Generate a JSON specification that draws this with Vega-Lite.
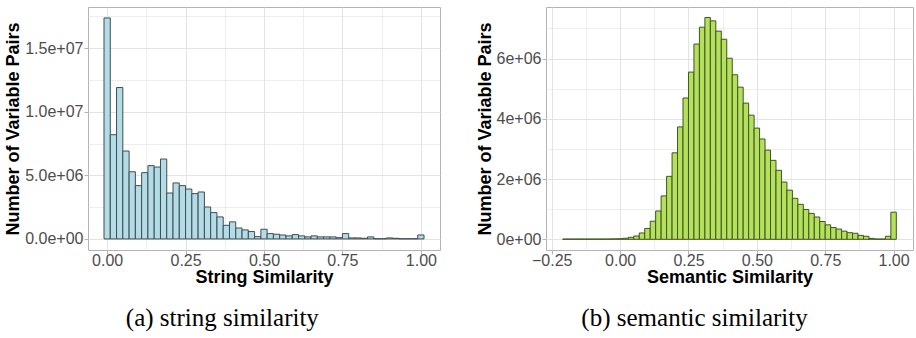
{
  "$schema": "https://vega.github.io/schema/vega-lite/v6.json",
  "padding": {"left": 4, "top": 6, "right": 0, "bottom": 0},
  "background": "white",
  "config": {
    "font": "Liberation Sans",
    "view": {"stroke": "#b3b3b3", "strokeWidth": 1},
    "axis": {
      "domain": false,
      "labelFont": "Liberation Sans",
      "labelFontSize": 16,
      "labelColor": "#4d4d4d",
      "titleFont": "Liberation Sans",
      "titleFontSize": 18,
      "titleFontWeight": "bold",
      "titleColor": "#000000",
      "tickSize": 4,
      "tickWidth": 1,
      "gridColor": "#e3e3e3",
      "labelOverlap": false
    }
  },
  "datasets": {
    "str": [
      {"lo": -0.01, "hi": 0.01, "n": 17370000},
      {"lo": 0.01, "hi": 0.03, "n": 8190000},
      {"lo": 0.03, "hi": 0.05, "n": 11900000},
      {"lo": 0.05, "hi": 0.07, "n": 6910000},
      {"lo": 0.07, "hi": 0.09, "n": 5280000},
      {"lo": 0.09, "hi": 0.11, "n": 4190000},
      {"lo": 0.11, "hi": 0.13, "n": 5210000},
      {"lo": 0.13, "hi": 0.15, "n": 5760000},
      {"lo": 0.15, "hi": 0.17, "n": 5650000},
      {"lo": 0.17, "hi": 0.19, "n": 6280000},
      {"lo": 0.19, "hi": 0.21, "n": 3610000},
      {"lo": 0.21, "hi": 0.23, "n": 4400000},
      {"lo": 0.23, "hi": 0.25, "n": 4190000},
      {"lo": 0.25, "hi": 0.27, "n": 3920000},
      {"lo": 0.27, "hi": 0.29, "n": 3560000},
      {"lo": 0.29, "hi": 0.31, "n": 3690000},
      {"lo": 0.31, "hi": 0.33, "n": 2510000},
      {"lo": 0.33, "hi": 0.35, "n": 2070000},
      {"lo": 0.35, "hi": 0.37, "n": 1730000},
      {"lo": 0.37, "hi": 0.39, "n": 1070000},
      {"lo": 0.39, "hi": 0.41, "n": 1340000},
      {"lo": 0.41, "hi": 0.43, "n": 860000},
      {"lo": 0.43, "hi": 0.45, "n": 710000},
      {"lo": 0.45, "hi": 0.47, "n": 580000},
      {"lo": 0.47, "hi": 0.49, "n": 180000},
      {"lo": 0.49, "hi": 0.51, "n": 760000},
      {"lo": 0.51, "hi": 0.53, "n": 420000},
      {"lo": 0.53, "hi": 0.55, "n": 370000},
      {"lo": 0.55, "hi": 0.57, "n": 310000},
      {"lo": 0.57, "hi": 0.59, "n": 240000},
      {"lo": 0.59, "hi": 0.61, "n": 340000},
      {"lo": 0.61, "hi": 0.63, "n": 240000},
      {"lo": 0.63, "hi": 0.65, "n": 160000},
      {"lo": 0.65, "hi": 0.67, "n": 240000},
      {"lo": 0.67, "hi": 0.69, "n": 160000},
      {"lo": 0.69, "hi": 0.71, "n": 160000},
      {"lo": 0.71, "hi": 0.73, "n": 160000},
      {"lo": 0.73, "hi": 0.75, "n": 100000},
      {"lo": 0.75, "hi": 0.77, "n": 420000},
      {"lo": 0.77, "hi": 0.79, "n": 80000},
      {"lo": 0.79, "hi": 0.81, "n": 80000},
      {"lo": 0.81, "hi": 0.83, "n": 50000},
      {"lo": 0.83, "hi": 0.85, "n": 160000},
      {"lo": 0.85, "hi": 0.87, "n": 15000},
      {"lo": 0.87, "hi": 0.89, "n": 15000},
      {"lo": 0.89, "hi": 0.91, "n": 80000},
      {"lo": 0.91, "hi": 0.93, "n": 50000},
      {"lo": 0.93, "hi": 0.95, "n": 15000},
      {"lo": 0.95, "hi": 0.97, "n": 15000},
      {"lo": 0.97, "hi": 0.99, "n": 15000},
      {"lo": 0.99, "hi": 1.01, "n": 310000}
    ],
    "sem": [
      {"lo": -0.21, "hi": -0.19, "n": 10000},
      {"lo": -0.19, "hi": -0.17, "n": 10000},
      {"lo": -0.17, "hi": -0.15, "n": 10000},
      {"lo": -0.15, "hi": -0.13, "n": 10000},
      {"lo": -0.13, "hi": -0.11, "n": 10000},
      {"lo": -0.11, "hi": -0.09, "n": 10000},
      {"lo": -0.09, "hi": -0.07, "n": 10000},
      {"lo": -0.07, "hi": -0.05, "n": 10000},
      {"lo": -0.05, "hi": -0.03, "n": 12000},
      {"lo": -0.03, "hi": -0.01, "n": 15000},
      {"lo": -0.01, "hi": 0.01, "n": 20000},
      {"lo": 0.01, "hi": 0.03, "n": 35000},
      {"lo": 0.03, "hi": 0.05, "n": 66000},
      {"lo": 0.05, "hi": 0.07, "n": 110000},
      {"lo": 0.07, "hi": 0.09, "n": 210000},
      {"lo": 0.09, "hi": 0.11, "n": 360000},
      {"lo": 0.11, "hi": 0.13, "n": 600000},
      {"lo": 0.13, "hi": 0.15, "n": 940000},
      {"lo": 0.15, "hi": 0.17, "n": 1440000},
      {"lo": 0.17, "hi": 0.19, "n": 2090000},
      {"lo": 0.19, "hi": 0.21, "n": 2870000},
      {"lo": 0.21, "hi": 0.23, "n": 3730000},
      {"lo": 0.23, "hi": 0.25, "n": 4690000},
      {"lo": 0.25, "hi": 0.27, "n": 5550000},
      {"lo": 0.27, "hi": 0.29, "n": 6480000},
      {"lo": 0.29, "hi": 0.31, "n": 7040000},
      {"lo": 0.31, "hi": 0.33, "n": 7360000},
      {"lo": 0.33, "hi": 0.35, "n": 7250000},
      {"lo": 0.35, "hi": 0.37, "n": 6910000},
      {"lo": 0.37, "hi": 0.39, "n": 6640000},
      {"lo": 0.39, "hi": 0.41, "n": 6010000},
      {"lo": 0.41, "hi": 0.43, "n": 5460000},
      {"lo": 0.43, "hi": 0.45, "n": 5050000},
      {"lo": 0.45, "hi": 0.47, "n": 4520000},
      {"lo": 0.47, "hi": 0.49, "n": 4120000},
      {"lo": 0.49, "hi": 0.51, "n": 3690000},
      {"lo": 0.51, "hi": 0.53, "n": 3330000},
      {"lo": 0.53, "hi": 0.55, "n": 2960000},
      {"lo": 0.55, "hi": 0.57, "n": 2620000},
      {"lo": 0.57, "hi": 0.59, "n": 2290000},
      {"lo": 0.59, "hi": 0.61, "n": 1900000},
      {"lo": 0.61, "hi": 0.63, "n": 1630000},
      {"lo": 0.63, "hi": 0.65, "n": 1360000},
      {"lo": 0.65, "hi": 0.67, "n": 1160000},
      {"lo": 0.67, "hi": 0.69, "n": 990000},
      {"lo": 0.69, "hi": 0.71, "n": 860000},
      {"lo": 0.71, "hi": 0.73, "n": 740000},
      {"lo": 0.73, "hi": 0.75, "n": 590000},
      {"lo": 0.75, "hi": 0.77, "n": 480000},
      {"lo": 0.77, "hi": 0.79, "n": 390000},
      {"lo": 0.79, "hi": 0.81, "n": 340000},
      {"lo": 0.81, "hi": 0.83, "n": 270000},
      {"lo": 0.83, "hi": 0.85, "n": 220000},
      {"lo": 0.85, "hi": 0.87, "n": 200000},
      {"lo": 0.87, "hi": 0.89, "n": 130000},
      {"lo": 0.89, "hi": 0.91, "n": 100000},
      {"lo": 0.91, "hi": 0.93, "n": 30000},
      {"lo": 0.93, "hi": 0.95, "n": 10000},
      {"lo": 0.95, "hi": 0.97, "n": 10000},
      {"lo": 0.97, "hi": 0.99, "n": 100000},
      {"lo": 0.99, "hi": 1.01, "n": 900000}
    ]
  },
  "spacing": 34,
  "hconcat": [
    {
      "width": 352,
      "height": 243,
      "data": {"name": "str"},
      "title": {"text": "(a) string similarity", "orient": "bottom", "frame": "bounds", "font": "Liberation Serif", "fontSize": 25, "fontWeight": "normal", "color": "#000000", "offset": 20, "anchor": "middle"},
      "mark": {"type": "bar", "fill": "#b3dce7", "stroke": "#3f4d52", "strokeWidth": 1},
      "encoding": {
        "x": {"field": "lo", "type": "quantitative",
          "scale": {"domain": [-0.061, 1.061], "nice": false, "zero": false},
          "axis": {"title": "String Similarity", "titlePadding": 0, "labelPadding": -2, "labelFontSize": 16, "titleFontSize": 18,
            "values": [0, 0.125, 0.25, 0.375, 0.5, 0.625, 0.75, 0.875, 1],
            "labelExpr": "datum.value % 0.25 == 0 ? format(datum.value, '.2f') : ''",
            "tickColor": {"condition": {"test": "datum.value % 0.25 != 0", "value": "transparent"}, "value": "#b3b3b3"},
            "gridWidth": {"condition": {"test": "datum.value % 0.25 != 0", "value": 0.6}, "value": 1}}},
        "x2": {"field": "hi"},
        "y": {"field": "n", "type": "quantitative",
          "scale": {"domain": [-870000, 18230000], "nice": false, "zero": false},
          "axis": {"title": "Number of Variable Pairs", "titlePadding": 2, "labelPadding": 1, "labelFontSize": 16, "titleFontSize": 18,
            "values": [0, 2500000, 5000000, 7500000, 10000000, 12500000, 15000000, 17500000],
            "labelExpr": "datum.value == 0 ? '0.0e+00' : datum.value == 5000000 ? '5.0e+06' : datum.value == 10000000 ? '1.0e+07' : datum.value == 15000000 ? '1.5e+07' : ''",
            "tickColor": {"condition": {"test": "datum.value % 5000000 != 0", "value": "transparent"}, "value": "#b3b3b3"},
            "gridWidth": {"condition": {"test": "datum.value % 5000000 != 0", "value": 0.6}, "value": 1}}},
        "y2": {"datum": 0}
      }
    },
    {
      "width": 367,
      "height": 243,
      "data": {"name": "sem"},
      "title": {"text": "(b) semantic similarity", "orient": "bottom", "frame": "bounds", "font": "Liberation Serif", "fontSize": 25, "fontWeight": "normal", "color": "#000000", "offset": 20, "anchor": "middle"},
      "mark": {"type": "bar", "fill": "#b5e05c", "stroke": "#3d5520", "strokeWidth": 1},
      "encoding": {
        "x": {"field": "lo", "type": "quantitative",
          "scale": {"domain": [-0.271, 1.071], "nice": false, "zero": false},
          "axis": {"title": "Semantic Similarity", "titlePadding": 0, "labelPadding": -2, "labelFontSize": 16, "titleFontSize": 18,
            "values": [-0.25, -0.125, 0, 0.125, 0.25, 0.375, 0.5, 0.625, 0.75, 0.875, 1],
            "labelExpr": "datum.value % 0.25 == 0 ? format(datum.value, '.2f') : ''",
            "tickColor": {"condition": {"test": "datum.value % 0.25 != 0", "value": "transparent"}, "value": "#b3b3b3"},
            "gridWidth": {"condition": {"test": "datum.value % 0.25 != 0", "value": 0.6}, "value": 1}}},
        "x2": {"field": "hi"},
        "y": {"field": "n", "type": "quantitative",
          "scale": {"domain": [-355000, 7710000], "nice": false, "zero": false},
          "axis": {"title": "Number of Variable Pairs", "titlePadding": 2, "labelPadding": 1, "labelFontSize": 16, "titleFontSize": 18,
            "values": [0, 1000000, 2000000, 3000000, 4000000, 5000000, 6000000, 7000000],
            "labelExpr": "datum.value == 0 ? '0e+00' : datum.value == 2000000 ? '2e+06' : datum.value == 4000000 ? '4e+06' : datum.value == 6000000 ? '6e+06' : ''",
            "tickColor": {"condition": {"test": "datum.value % 2000000 != 0", "value": "transparent"}, "value": "#b3b3b3"},
            "gridWidth": {"condition": {"test": "datum.value % 2000000 != 0", "value": 0.6}, "value": 1}}},
        "y2": {"datum": 0}
      }
    }
  ]
}
